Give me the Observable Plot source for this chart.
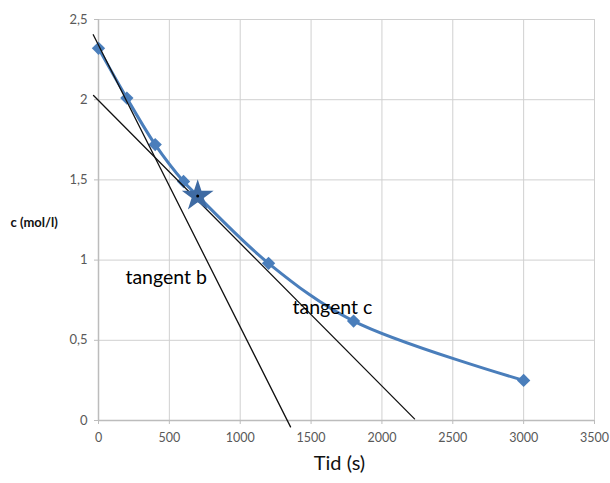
<!DOCTYPE html>
<html>
<head>
<meta charset="utf-8">
<script src="https://cdn.jsdelivr.net/npm/d3@7"></script>
<script src="https://cdn.jsdelivr.net/npm/@observablehq/plot@0.6"></script>
<style>
  html, body { margin: 0; padding: 0; background: #fff; }
  #chart svg { display: block; }
</style>
</head>
<body>
<div id="chart"></div>
<script>
// Measured series
const times = [0, 200, 400, 600, 700, 1200, 1800, 3000];
const conc = [2.32, 2.01, 1.72, 1.49, 1.40, 0.98, 0.62, 0.25];
// Tangent point (star)
const starTime = [700];
const starConc = [1.40];
// Tangent lines (end points)
const tangentBTime = [-37, 1355];
const tangentBConc = [2.405, -0.04];
const tangentCTime = [-35, 2230];
const tangentCConc = [2.026, 0.01];
// Annotations
const labelTexts = ["tangent b", "tangent c"];
const labelTime = [190, 1369];
const labelConc = [0.89, 0.70];
// Ticks
const xTicks = [0, 500, 1000, 1500, 2000, 2500, 3000, 3500];
const yTicks = [0, 0.5, 1, 1.5, 2, 2.5];

const series = times.map((t, i) => ({t, c: conc[i]}));
const star = starTime.map((t, i) => ({t, c: starConc[i]}));
const tanB = tangentBTime.map((t, i) => ({t, c: tangentBConc[i]}));
const tanC = tangentCTime.map((t, i) => ({t, c: tangentCConc[i]}));
const labels = labelTexts.map((s, i) => ({s, t: labelTime[i], c: labelConc[i]}));

const fmt = d => String(d).replace(".", ",");

const chart = Plot.plot({
  width: 610,
  height: 483,
  marginLeft: 98,
  marginRight: 16,
  marginTop: 19,
  marginBottom: 63,
  style: {fontFamily: "Lato, 'Open Sans', sans-serif", background: "#fff"},
  x: {domain: [0, 3500]},
  y: {domain: [0, 2.5]},
  marks: [
    Plot.gridX(xTicks, {stroke: "#d0d0d0", strokeOpacity: 1}),
    Plot.gridY(yTicks, {stroke: "#d0d0d0", strokeOpacity: 1}),
    Plot.ruleX([0], {stroke: "#bcbcbc", strokeWidth: 1.5}),
    Plot.ruleY([0], {stroke: "#bcbcbc", strokeWidth: 1.5}),
    Plot.axisX(xTicks, {tickFormat: d => String(d), tickSize: 4, tickPadding: 9, fontSize: 12.5, fill: "#595959", stroke: "#bcbcbc", label: null}),
    Plot.axisY(yTicks, {tickFormat: fmt, tickSize: 4, tickPadding: 7, fontSize: 13, fill: "#595959", stroke: "#bcbcbc", label: null}),
    Plot.line(series, {x: "t", y: "c", stroke: "#4a7ebb", strokeWidth: 3, curve: "catmull-rom"}),
    Plot.dot(series, {x: "t", y: "c", symbol: "diamond2", fill: "#4a7ebb", r: 6}),
    Plot.line(tanB, {x: "t", y: "c", stroke: "#111", strokeWidth: 1.3}),
    Plot.line(tanC, {x: "t", y: "c", stroke: "#111", strokeWidth: 1.3}),
    Plot.dot(star, {x: "t", y: "c", symbol: "star", fill: "#3f6ba3", r: 10}),
    Plot.dot(star, {x: "t", y: "c", fill: "#000", r: 1.5}),
    Plot.text(labels, {x: "t", y: "c", text: "s", textAnchor: "start", fontSize: 19.5, fill: "#000"}),
    Plot.text(["Tid (s)"], {frameAnchor: "bottom", dy: 49, dx: -7, fontSize: 20, fill: "#111"}),
    Plot.text(["c (mol/l)"], {frameAnchor: "left", dx: -88, dy: 3, textAnchor: "start", fontSize: 13, fontWeight: "bold", fill: "#111"})
  ]
});
document.getElementById("chart").appendChild(chart);
</script>
</body>
</html>
